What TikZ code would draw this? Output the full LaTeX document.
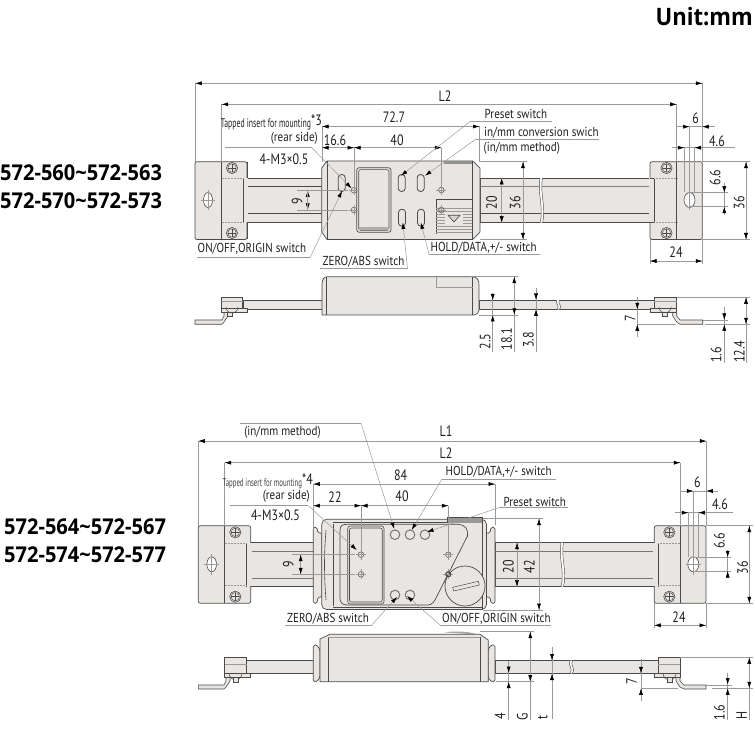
\documentclass[tikz,border=0pt]{standalone}
\usepackage{fontspec}
\usetikzlibrary{arrows.meta}
\setmainfont[FakeStretch=0.85]{PT Sans}
\newfontfamily\narrowf[FakeStretch=0.62]{PT Sans}
\newfontfamily\numf[FakeStretch=0.8]{PT Sans}
\newfontfamily\headf[FakeStretch=0.92]{Open Sans}
\definecolor{bodyc}{HTML}{E9E5E2}
\definecolor{linec}{HTML}{4A4A4A}
\definecolor{dimc}{HTML}{9A9A9A}
\tikzset{
 part/.style={draw=linec,fill=bodyc,line width=.7pt},
 edge/.style={draw=linec,line width=.6pt},
 thin edge/.style={draw=dimc,line width=.5pt},
 dimline/.style={draw=dimc,line width=.5pt},
 tp/.style={draw=dimc,line width=.5pt,-{Latex[black,length=6.5pt,width=4pt]}},
 lbl/.style={inner sep=0pt,font=\fontsize{13}{13}\selectfont,text=black!88},
 num/.style={inner sep=0pt,font=\numf\fontsize{15}{15}\selectfont,text=black!88},
 dimv/.style={num,rotate=90},
 head/.style={inner sep=0pt,anchor=west,font=\headf\bfseries\fontsize{21.8}{21.8}\selectfont},
}
\newcommand{\tR}[2]{\draw[tp] ({#1-7},#2)--(#1,#2);}
\newcommand{\tL}[2]{\draw[tp] ({#1+7},#2)--(#1,#2);}
\newcommand{\tD}[2]{\draw[tp] (#1,{#2-7})--(#1,#2);}
\newcommand{\tU}[2]{\draw[tp] (#1,{#2+7})--(#1,#2);}
\newcommand{\screw}[2]{\draw[edge,fill=bodyc] (#1,#2) circle [radius=5.6];\draw[edge,line width=.45pt] (#1,#2) circle [radius=4.2];\draw[edge,line width=.5pt] ({#1-4},#2)--({#1+4},#2) (#1,{#2-4})--(#1,{#2+4});}
\newcommand{\hole}[2]{\draw[edge,line width=.5pt] (#1,#2) circle [radius=2.8];\draw[thin edge] ({#1-5},#2)--({#1+5},#2) (#1,{#2-5})--(#1,{#2+5});}
\newcommand{\slot}[2]{\draw[edge,fill=bodyc,rounded corners=3.3pt,line width=.8pt] ({#1-3.5},{#2-8.5}) rectangle ({#1+3.5},{#2+8.5});}
\newcommand{\ring}[2]{\draw[draw=linec!75,fill=bodyc,line width=1pt] (#1,#2) circle [radius=4.8];}
\newcommand{\brk}[3]{\fill[white] (#1,#2) .. controls ({#1-3},{#2+.33*(#3-#2)}) and ({#1+4},{#2+.66*(#3-#2)}) .. (#1,#3) -- ({#1+2.5},#3) .. controls ({#1+6.5},{#2+.66*(#3-#2)}) and ({#1-.5},{#2+.33*(#3-#2)}) .. ({#1+2.5},#2) -- cycle;
\draw[edge,line width=.45pt] (#1,#2) .. controls ({#1-3},{#2+.33*(#3-#2)}) and ({#1+4},{#2+.66*(#3-#2)}) .. (#1,#3) ({#1+2.5},#3) .. controls ({#1+6.5},{#2+.66*(#3-#2)}) and ({#1-.5},{#2+.33*(#3-#2)}) .. ({#1+2.5},#2);}
\begin{document}
\begin{tikzpicture}[x=1pt,y=-1pt]
\useasboundingbox (0,0) rectangle (755,751);
% headings
\node[inner sep=0pt,anchor=east,font=\headf\bfseries\fontsize{24}{24}\selectfont] (unit) at (753,17) {Unit:mm};
\node[head] (h1) at (0,173) {572-560\char`\~572-563};
\node[head] (h2) at (0,201) {572-570\char`\~572-573};
\node[head] (h3) at (4,527) {572-564\char`\~572-567};
\node[head] (h4) at (4,555) {572-574\char`\~572-577};

%%%%%%%% TOP FRONT VIEW
\draw[part] (243,178) rectangle (322,222.7);
\draw[part] (480,178) rectangle (654,222.7);
\draw[edge] (243,186.7)--(322,186.7) (480,186.7)--(654,186.7);
\draw[edge,draw=linec!70,line width=1.2pt] (480,186.7)--(654,186.7);
\draw[edge,line width=.5pt] (243,213)--(322,213) (480,213)--(654,213);
\brk{540}{178}{222.7}
% left block
\draw[part,rounded corners=2pt] (195,161.7) rectangle (247,239.5);
\fill[bodyc] (243,178.4) rectangle (248,222.3);
\draw[edge] (247,161.7)--(247,178) (247,222.7)--(247,239.5);
\draw[edge] (221.7,161.7)--(221.7,239.5);
\draw[edge] (243,178)--(243,222.7);
\draw[dimc,densely dotted,line width=.5pt] (221.7,178)--(243,178) (221.7,222.7)--(243,222.7);
\screw{232}{168}\screw{232}{233}
\draw[edge,fill=white] (208,200) ellipse [x radius=4.5,y radius=7.5];
\draw[thin edge] (201,200)--(215,200) (208,190)--(208,210);
% right block
\draw[part,rounded corners=2pt] (650,161.7) rectangle (702.3,239.5);
\fill[bodyc] (649,178.4) rectangle (654,222.3);
\draw[edge] (650,178)--(654,178) (650,222.7)--(654,222.7);
\draw[edge] (654,178)--(654,222.7);
\draw[edge] (676.7,161.7)--(676.7,239.5);
\draw[dimc,densely dotted,line width=.5pt] (654,178)--(676.7,178) (654,222.7)--(676.7,222.7);
\screw{666.5}{168}\screw{666.5}{233}
\draw[edge,fill=white] (689.5,200) ellipse [x radius=5.5,y radius=7.5];
% body
\draw[part] (321.7,168)--(327,161)--(472.7,161)--(480,168)--(480,232)--(472.7,239.5)--(327,239.5)--(321.7,232)--cycle;
\draw[edge] (327,161)--(327,239.5) (472.7,161)--(472.7,239.5);
\fill[linec!60] (444,161) rectangle (471.7,164);
\draw[edge,rounded corners=2.5pt,line width=.7pt] (356.7,167.7) rectangle (391,232.3);
\draw[edge,rounded corners=2pt,line width=.6pt] (358.7,169.7) rectangle (389,230.3);
\fill[linec!45] (359.2,227.5) rectangle (388.5,230);
\slot{341.7}{183}\slot{401.7}{183}\slot{420.7}{183}\slot{402}{217.7}\slot{421}{217.7}
\draw[edge,line width=.5pt] (436,234)--(436,199)--(471.7,199);
\foreach \yy in {208,211,214,217,220,223,226,229,232}{\draw[thin edge,line width=.45pt] (436,\yy)--(471.7,\yy);}
\fill[bodyc] (445,212) rectangle (463,224);
\draw[edge,fill=linec!25] (448,215.3)--(460,215.3)--(454,222)--cycle;
\hole{354}{190.3}\hole{354}{210}\hole{441.3}{190}\hole{441.3}{210}

%%%%%%%% TOP SIDE VIEW
\draw[part] (243,300)--(322,300)--(322,309.3)--(243,309.3)--cycle;
\draw[part] (479,300) rectangle (654,309.3);
\brk{557}{300}{309.3}
\draw[part] (322,315)--(322,284) .. controls (322,279) and (324,276.7) .. (328,276.7)--(472,276.7) .. controls (477,276.7) and (479,280) .. (479,285)--(479,309) .. controls (479,313) and (477,315) .. (474,315)--cycle;
\draw[edge] (326.7,276.7)--(326.7,315) (472.7,276.7)--(472.7,315);
\draw[thin edge] (436.7,276.7)--(436.7,287.3)--(472.7,287.3);
% left bracket
\draw[part,line width=.6pt] (195,320)--(222,320)--(224,316)--(224,312)--(228,312)--(228,316)--(224,322)--(222,324.3)--(195,324.3)--cycle;
\draw[part,line width=.6pt] (221.7,308.3) rectangle (247,312);
\draw[part,line width=.6pt] (221.7,297.3) rectangle (242.7,308.3);
\draw[edge,line width=.5pt] (226,307) arc[start angle=180,end angle=0,radius=6];
\draw[part,line width=.5pt] (227.5,312) rectangle (232.5,316.5);
\draw[thin edge] (221.7,301)--(242.7,301);
% right bracket
\draw[part,line width=.6pt] (702.7,320)--(680,320)--(676.7,316)--(676.7,312)--(672.7,312)--(672.7,316)--(676.7,322)--(680,324.3)--(702.7,324.3)--cycle;
\draw[part,line width=.6pt] (650.3,308.7) rectangle (676.7,312);
\draw[part,line width=.6pt] (654.3,297.3) rectangle (676.7,308.7);
\draw[edge,line width=.5pt] (659,307) arc[start angle=180,end angle=0,radius=6];
\draw[part,line width=.5pt] (662.5,312) rectangle (667.5,316.5);
\draw[thin edge] (654.3,301)--(676.7,301);

%%%%%%%% TOP DIMENSIONS
\coordinate (a1) at (195.3,162); \coordinate (a2) at (702.3,162);
\draw[dimline] (195.3,83.3)--(702.3,83.3) (195.3,83.3)--(a1) (702.3,83.3)--(a2);
\tL{195.3}{83.3}\tR{702.3}{83.3}
\node[num] (l2a) at (445,96) {L2};
\draw[dimline] (221.7,104.3)--(676.7,104.3) (221.7,104.3)--(221.7,162) (676.7,104.3)--(676.7,162);
\tL{221.7}{104.3}\tR{676.7}{104.3}
\node[num] (d727) at (394,117) {72.7};
\draw[dimline] (322,126.5)--(479.5,126.5) (322,126.5)--(322,162) (479.5,126.5)--(479.5,162);
\tL{322}{126.5}\tR{479.5}{126.5}
\node[num] (d166) at (335,140) {16.6};
\node[num] (d40a) at (397,140) {40};
\draw[dimline] (322,147.7)--(441.3,147.7) (354,147.7)--(354,186) (441.3,147.7)--(441.3,186);
\tL{322}{147.7}\tR{354}{147.7}\tL{354}{147.7}\tR{441.3}{147.7}
\node[lbl,anchor=east,font=\narrowf\fontsize{12.5}{12.5}\selectfont] (tap1) at (322,122) {Tapped insert for mounting\raisebox{2pt}{\numf\fontsize{15}{15}\selectfont *3}};
\node[lbl,anchor=east] (rs1) at (318,138) {(rear side)};
\node[num] (m1) at (284,159) {4-M3×0.5};
\draw[dimline] (225,147.7)--(311.7,147.7);
\draw[tp] (311.7,147.7)--(351.5,188.3);
% leaders top
\node[lbl,anchor=west] (ps1) at (484.5,114) {Preset switch};
\coordinate (ps1u) at (470,121.5);
\draw[dimline] (552,121.5)--(ps1u);
\draw[tp] (ps1u)--(401,175.7);
\node[lbl,anchor=west] (cv1) at (484,133) {in/mm conversion swich};
\node[lbl,anchor=west] (cv2) at (483.5,148) {(in/mm method)};
\coordinate (cv1u) at (476,139);
\draw[dimline] (599,139)--(cv1u);
\draw[tp] (cv1u)--(425,175.7);
\node[lbl,anchor=west] (oo1) at (197.5,249) {ON/OFF,ORIGIN switch};
\coordinate (oo1u) at (310,257.7);
\draw[dimline] (197,257.7)--(oo1u);
\draw[tp] (oo1u)--(342,191);
\node[lbl,anchor=west] (za1) at (322.5,262) {ZERO/ABS switch};
\coordinate (za1u) at (407.5,268.7);
\draw[dimline] (320,268.7)--(za1u);
\draw[tp] (za1u)--(402.8,222.5);
\node[lbl,anchor=west] (hd1) at (430.5,248) {HOLD/DATA,+/- switch};
\coordinate (hd1u) at (429,254);
\draw[dimline] (540,254)--(hd1u);
\draw[tp] (hd1u)--(420.8,222.5);
% vertical front
\draw[dimline] (297,190.3)--(348,190.3) (297,210)--(348,210);
\tU{307.7}{190.3}\tD{307.7}{210}\draw[dimline] (307.7,190.3)--(307.7,210);
\node[dimv] (d9a) at (297,201) {9};
\draw[dimline] (501.7,178)--(501.7,222.7); \tU{501.7}{178}\tD{501.7}{222.7}
\node[dimv] (d20a) at (491.7,203) {20};
\draw[dimline] (480,161.7)--(527,161.7) (480,239.5)--(527,239.5) (523,161.7)--(523,239.5);
\tU{523}{161.7}\tD{523}{239.5}
\node[dimv] (d36a) at (515,202.7) {36};
% right top dims
\draw[dimline] (676.7,126.7)--(715,126.7) (689.5,126.7)--(689.5,210);
\tR{689.5}{126.7}\tL{702.3}{126.7}
\node[num] (d6a) at (695.7,118) {6};
\draw[dimline] (671.7,147.7)--(735,147.7) (684.3,147.7)--(684.3,192) (694.5,147.7)--(694.5,192);
\tR{684.3}{147.7}\tL{694.5}{147.7}
\node[num] (d46a) at (717,141.7) {4.6};
\draw[dimline] (689,192.7)--(728,192.7) (689,206.7)--(728,206.7) (724.3,183)--(724.3,215);
\tD{724.3}{192.7}\tU{724.3}{206.7}
\node[dimv] (d66a) at (715,177.3) {6.6};
\draw[dimline] (702.3,161.7)--(750,161.7) (702.3,239.5)--(750,239.5) (746,161.7)--(746,239.5);
\tU{746}{161.7}\tD{746}{239.5}
\node[dimv] (d36b) at (739,202.7) {36};
\draw[dimline] (650,239.5)--(650,264) (702.3,239.5)--(702.3,264) (650,261)--(702.3,261);
\tL{650}{261}\tR{702.3}{261}
\node[num] (d24a) at (676,252.3) {24};
% side dims
\draw[dimline] (492.7,295)--(492.7,351.7); \tD{492.7}{300.3}\tU{492.7}{315}
\node[dimv] (d25) at (485,341.7) {2.5};
\draw[dimline] (470,276.7)--(518,276.7) (479,315)--(518,315) (514.3,276.7)--(514.3,351.7);
\tU{514.3}{276.7}\tD{514.3}{314.8}
\node[dimv] (d181) at (506.7,339.3) {18.1};
\draw[dimline] (536,288)--(536,351.7); \tD{536}{300}\tU{536}{309.3}
\node[dimv] (d38) at (528.3,340) {3.8};
\draw[dimline] (637.3,296.7)--(637.3,336.7) (637.3,324.3)--(676,324.3); \tD{637.3}{309.3}\tU{637.3}{324.3}
\node[dimv] (d7a) at (630,318.3) {7};
\draw[dimline] (703,320)--(728,320) (705,324.3)--(750,324.3) (724.3,306.7)--(724.3,363.3);
\tD{724.3}{320}\tU{724.3}{324.3}
\node[dimv] (d16a) at (716,355) {1.6};
\draw[dimline] (676.7,297.3)--(750,297.3) (746,297.3)--(746,363.3);
\tU{746}{297.3}\tD{746}{324.3}
\node[dimv] (d124) at (739.3,351.7) {12.4};

%%%%%%%% BOTTOM FRONT VIEW
\draw[part] (250,542.7) rectangle (314,586.7);
\draw[part] (495,542.7) rectangle (658.3,586.7);
\draw[edge,line width=.9pt,draw=linec!75] (250,551)--(314,551) (495,551)--(658.3,551);
\draw[edge,line width=.9pt,draw=linec!75] (250,578.3)--(314,578.3) (495,578.3)--(658.3,578.3);
\brk{561}{542.7}{586.7}
% left block
\draw[part,rounded corners=2pt] (198.3,525.7) rectangle (250.7,603.3);
\fill[bodyc] (246,543.1) rectangle (252,586.3);
\draw[edge] (246,543)--(246,586.7);
\draw[edge] (224.7,525.7)--(224.7,603.3);
\draw[dimc,densely dotted,line width=.5pt] (224.7,543.3)--(246,543.3) (224.7,585.7)--(246,585.7);
\screw{235.3}{532.3}\screw{235.3}{596.7}
\draw[edge,fill=white] (211.7,564.3) ellipse [x radius=4.8,y radius=7.5];
\draw[thin edge] (204,564.3)--(219,564.3) (211.7,554)--(211.7,575);
% right block
\draw[part,rounded corners=2pt] (654.3,525.7) rectangle (706,603.3);
\fill[bodyc] (653,543.1) rectangle (658,586.3);
\draw[edge] (658.3,543)--(658.3,586.7);
\draw[edge] (680,525.7)--(680,603.3);
\draw[dimc,densely dotted,line width=.5pt] (658.3,543.3)--(680,543.3) (658.3,585.7)--(680,585.7);
\screw{669.3}{532.3}\screw{669.3}{596.7}
\draw[edge,fill=white] (693.3,564.3) ellipse [x radius=5.5,y radius=7.5];
\draw[thin edge] (686,564.3)--(701,564.3);
% collars
\draw[part,rounded corners=1.5pt] (313.3,527.3)--(317,527.3)--(318,533)--(322,533)--(322,597)--(318,597)--(317,603.3)--(313.3,603.3)--cycle;
\draw[part,rounded corners=1.5pt] (495,527.3)--(491,527.3)--(490,533)--(483,533)--(483,597)--(490,597)--(491,603.3)--(495,603.3)--cycle;
% body
\draw[part,rounded corners=5pt] (321.7,519.3)--(486.5,519.3)--(486.5,609.5)--(321.7,609.5)--cycle;
\draw[edge] (333,524)--(333,606);
\draw[edge] (326,530) .. controls (324,555) and (324,575) .. (326,600);
\draw[edge] (333,522) -- (482.7,522);
\draw[edge] (333,606.8) -- (482.7,606.8);
\draw[edge] (482.7,519.3)--(482.7,609.5);
\fill[linec!50!bodyc] (447.7,517.3) rectangle (482.7,522.7);
\draw[edge,line width=.5pt] (447.7,522.7)--(447.7,517.3)--(482.7,517.3)--(482.7,522.7);
\draw[edge,line width=.7pt] (428.3,605)--(347,605) .. controls (342,605) and (340,602) .. (340,598)--(340,531) .. controls (340,526) and (342,524.3) .. (347,524.3)--(458,524.3) .. controls (465,524.3) and (469,530) .. (467.5,536)--(437.5,595) .. controls (435,601) and (432,605) .. (428.3,605);
\draw[edge,rounded corners=2.5pt] (347.7,526) rectangle (384,604);
\draw[edge,rounded corners=2pt] (349.5,528) rectangle (382.2,602);
\draw[part] (465,586) circle [radius=20];
\draw[edge,fill=bodyc,line width=.5pt] (452.7,587.3)--(478.3,581.3)--(479.3,585)--(453.7,591)--cycle;
\ring{395}{534.7}\ring{410}{534.7}\ring{425}{534.7}\ring{395}{595}\ring{410}{595}
\hole{361}{554.7}\hole{361}{574.3}\hole{448.3}{554.7}\hole{448.3}{574.3}
\draw[edge,line width=.9pt] (448.3,574.3) circle [radius=2.4];

%%%%%%%% BOTTOM SIDE VIEW
\draw[part] (246.7,660.7) rectangle (314,673.3);
\draw[part] (495,660.7) rectangle (658.3,673.3);
\brk{570}{660.7}{673.3}
\draw[part,rounded corners=1.5pt] (313.3,645)--(317,645)--(320,650)--(320,677)--(317,681.7)--(313.3,681.7)--cycle;
\draw[part,rounded corners=1.5pt] (495,645)--(491,645)--(488,650)--(488,677)--(491,681.7)--(495,681.7)--cycle;
\fill[linec!40!bodyc] (445,632.5) .. controls (450,631) and (470,631) .. (476,634.3) -- cycle;
\draw[part] (320,681.7)--(320,639)--(330,634.3)--(480,634.3)--(488.3,640)--(488.3,681.7)--cycle;
\draw[edge] (328.3,637)--(328.3,681.7) (480,637)--(480,681.7);
\draw[thin edge] (328.3,637)--(480,637);
% bottom brackets
\draw[part,line width=.6pt] (198.3,685)--(224,685)--(226,681)--(226,677)--(230,677)--(230,681)--(226,687)--(224,689)--(198.3,689)--cycle;
\draw[part,line width=.6pt] (224.7,673.3) rectangle (250.7,677);
\draw[part,line width=.6pt] (224.7,657.3) rectangle (246.7,673.3);
\draw[edge,line width=.5pt] (229,673.3) arc[start angle=180,end angle=0,radius=6.5];
\draw[thin edge] (224.7,664)--(246.7,664);
\draw[part,line width=.5pt] (233,677) rectangle (238,682);
\draw[part,line width=.6pt] (706,685)--(684,685)--(680,681)--(680,677)--(676,677)--(676,681)--(680,687)--(684,689)--(706,689)--cycle;
\draw[part,line width=.6pt] (654,673.3) rectangle (680,677);
\draw[part,line width=.6pt] (658.3,657.3) rectangle (680,673.3);
\draw[edge,line width=.5pt] (663,673.3) arc[start angle=180,end angle=0,radius=6.5];
\draw[thin edge] (658.3,664)--(680,664);
\draw[part,line width=.5pt] (666.8,677) rectangle (671.8,682);

%%%%%%%% BOTTOM DIMENSIONS
\draw[dimline] (198.3,441)--(706.3,441) (198.3,441)--(198.3,526) (706.3,441)--(706.3,526);
\tL{198.3}{441}\tR{706.3}{441}
\node[num] (l1) at (446,431) {L1};
\node[lbl] (mm2) at (282.5,432.3) {(in/mm method)};
\draw[dimline] (224.7,462.7)--(680.3,462.7) (224.7,462.7)--(224.7,526) (680.3,462.7)--(680.3,526);
\tL{224.7}{462.7}\tR{680.3}{462.7}
\node[num] (l2b) at (446,453) {L2};
\node[num] (d84) at (400.7,475.7) {84};
\draw[dimline] (313.3,484)--(495,484) (313.3,484)--(313.3,530) (495,484)--(495,525);
\tL{313.3}{484}\tR{495}{484}
\node[num] (d22) at (335,496.7) {22};
\node[num] (d40b) at (402,496.7) {40};
\draw[dimline] (313.3,505.7)--(448.3,505.7) (361,505.7)--(361,550) (448.3,505.7)--(448.3,550);
\tL{313.3}{505.7}\tR{361}{505.7}\tL{361}{505.7}\tR{448.3}{505.7}
\node[lbl,anchor=east,font=\narrowf\fontsize{11}{11}\selectfont,text=black!75] (tap2) at (313,481) {Tapped insert for mounting\raisebox{2pt}{\numf\fontsize{15}{15}\selectfont\color{black!88} *4}};
\node[lbl,anchor=east] (rs2) at (310,496.7) {(rear side)};
\node[num] (m2) at (275.5,515) {4-M3×0.5};
\coordinate (m2u) at (308.3,505.7);
\draw[dimline] (230,505.7)--(m2u);
\draw[tp] (m2u)--(356.7,550);
% leaders bottom
\coordinate (mm2u) at (361,423.3);
\draw[dimline] (240,423.3)--(mm2u);
\draw[tp] (mm2u)--(394.3,529);
\node[lbl,anchor=west] (hd2) at (445.5,472.3) {HOLD/DATA,+/- switch};
\coordinate (hd2u) at (442,479);
\draw[dimline] (556,479)--(hd2u);
\draw[tp] (hd2u)--(411.7,530);
\node[lbl,anchor=west] (ps2) at (503.3,502.3) {Preset switch};
\coordinate (ps2u) at (500,507.3);
\draw[dimline] (568,507.3)--(ps2u);
\draw[tp] (ps2u)--(427,532);
\node[lbl,anchor=west] (za2) at (287,619) {ZERO/ABS switch};
\coordinate (za2u) at (371.7,625);
\draw[dimline] (285,625)--(za2u);
\draw[tp] (za2u)--(397,597);
\node[lbl,anchor=west] (oo2) at (442,619) {ON/OFF,ORIGIN switch};
\coordinate (oo2u) at (440,625);
\draw[dimline] (551,625)--(oo2u);
\draw[tp] (oo2u)--(407,596);
% front dims
\draw[dimline] (292,554.7)--(355,554.7) (292,574.3)--(355,574.3) (300.7,554.7)--(300.7,574.3);
\tU{300.7}{554.7}\tD{300.7}{574.3}
\node[dimv] (d9b) at (288.3,564) {9};
\draw[dimline] (517,542.7)--(517,586.7); \tU{517}{542.7}\tD{517}{586.7}
\node[dimv] (d20b) at (508.3,566.7) {20};
\draw[dimline] (483,518.7)--(543,518.7) (483,610)--(543,610) (539,518.7)--(539,610);
\tU{539}{518.7}\tD{539}{610}
\node[dimv] (d42) at (529.3,566.7) {42};
\draw[dimline] (680.7,491)--(718.3,491) (693.3,491)--(693.3,575);
\tR{693.3}{491}\tL{706.3}{491}
\node[num] (d6b) at (697.3,482.7) {6};
\draw[dimline] (675,512.7)--(733.3,512.7) (688.3,512.7)--(688.3,557) (698.3,512.7)--(698.3,557);
\tR{688.3}{512.7}\tL{698.3}{512.7}
\node[num] (d46b) at (720,504.3) {4.6};
\draw[dimline] (693,557.3)--(731,557.3) (693,571)--(731,571) (727.7,551)--(727.7,578);
\tD{727.7}{557.3}\tU{727.7}{571}
\node[dimv] (d66b) at (719.3,541) {6.6};
\draw[dimline] (706,525.7)--(753,525.7) (706,603.3)--(753,603.3) (749.3,525.7)--(749.3,603.3);
\tU{749.3}{525.7}\tD{749.3}{603.3}
\node[dimv] (d36c) at (742.7,567.7) {36};
\draw[dimline] (654.3,603.3)--(654.3,628) (706,603.3)--(706,628) (654.3,625.3)--(706,625.3);
\tL{654.3}{625.3}\tR{706}{625.3}
\node[num] (d24b) at (679,616.7) {24};
% side dims
\draw[dimline] (508.7,660.7)--(508.7,720) (496,681.7)--(534,681.7);
\tD{508.7}{673}\tU{508.7}{681.7}
\node[dimv] (d4) at (500,716.7) {4};
\draw[dimline] (480,631.7)--(534,631.7) (530.3,631.7)--(530.3,720);
\tU{530.3}{631.7}\tD{530.3}{681.7}
\node[dimv] (dG) at (522.3,716.7) {G};
\draw[dimline] (552,646.7)--(552,719); \tD{552}{660.5}\tU{552}{673.5}
\node[dimv] (dt) at (542.7,717) {t};
\draw[dimline] (641,659.3)--(641,701) (641,688.3)--(678,688.3); \tD{641}{673.3}\tU{641}{688.3}
\node[dimv] (d7b) at (631.7,681.7) {7};
\draw[dimline] (706,685)--(732,685) (712,688.3)--(753,688.3) (727.7,673)--(727.7,720);
\tD{727.7}{684.5}\tU{727.7}{688.3}
\node[dimv] (d16b) at (719.3,712.3) {1.6};
\draw[dimline] (680,657.3)--(753,657.3) (749.3,657.3)--(749.3,720);
\tU{749.3}{657.3}\tD{749.3}{688.3}
\node[dimv] (dH) at (741.7,715.7) {H};
\end{tikzpicture}
\end{document}
